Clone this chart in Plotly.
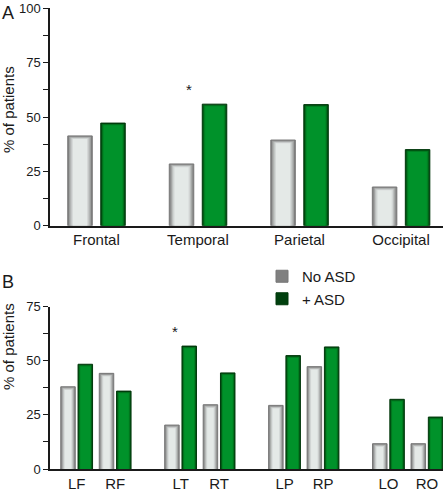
import plotly.graph_objects as go

# ---------------- data ----------------
REGIONS = ["Frontal", "Temporal", "Parietal", "Occipital"]
A_NO_ASD = [41.3, 28.4, 39.4, 17.8]
A_ASD = [47.2, 55.9, 55.7, 35.0]

SUB_LABELS = ["LF", "RF", "LT", "RT", "LP", "RP", "LO", "RO"]
SUB_GROUP = [0, 0, 1, 1, 2, 2, 3, 3]
SUB_SIDE = [0, 1, 0, 1, 0, 1, 0, 1]
B_NO_ASD = [38.0, 44.2, 20.3, 29.7, 29.4, 47.3, 11.7, 11.7]
B_ASD = [48.4, 36.0, 56.8, 44.4, 52.4, 56.4, 32.2, 24.0]

SERIES = ["No ASD", "+ ASD"]
Y_TITLE = "% of patients"
A_YTICKS = [0, 25, 50, 75, 100]
B_YTICKS = [0, 25, 50, 75]
A_SIG = "Temporal"
B_SIG = "LT"

# ---------------- layout geometry (pixels) ----------------
W, H = 443, 490
FONT = "Arial, Liberation Sans, sans-serif"
AX_LEFT = 50
A_Y0, A_YTOP, A_YMAX = 225.7, 8.3, 100
B_Y0, B_YTOP, B_YMAX = 469.0, 306.7, 75

A_PPX, A_C0 = 101.53, 96.4          # px per category, first category centre
B_PPX, B_C0 = 103.93, 76.7          # px per group, first pair centre
PAIR_SEP = 0.3704                   # spacing inside a pair (group units)

A_PPY = (A_Y0 - A_YTOP) / A_YMAX
B_PPY = (B_Y0 - B_YTOP) / B_YMAX

GREY = ["#808080", "#9fa1a0", "#bcbfbe", "#d4d8d7", "#e4e9e7"]
GREEN = ["#00400e", "#006819", "#008524", "#00922a"]

fig = go.Figure()


def layered(x, y, xa, ya, center, width_px, ppx, ppy, colors, step, name, edge):
    for k, c in enumerate(colors):
        w = (width_px - 2 * k * step) / ppx
        yy = [max(v - k * 0.8 / ppy, 0) for v in y]
        fig.add_trace(go.Bar(
            x=x, y=yy, width=w, offset=center - w / 2,
            marker=dict(color=c, line=dict(color=edge, width=1 if k == 0 else 0)),
            xaxis=xa, yaxis=ya, name=name, legendgroup=name,
            showlegend=(k == 0 and xa == "x2"), hoverinfo="skip",
        ))


# Panel A
layered(REGIONS, A_NO_ASD, "x", "y", -16.4 / A_PPX, 24.5, A_PPX, A_PPY,
        GREY, 1.3, SERIES[0], "#777777")
layered(REGIONS, A_ASD, "x", "y", 16.6 / A_PPX, 24.5, A_PPX, A_PPY,
        GREEN, 1.0, SERIES[1], "#00380b")

# Panel B
b_x = [g + (s - 0.5) * PAIR_SEP for g, s in zip(SUB_GROUP, SUB_SIDE)]
b_x0 = (0 - 0.5) * PAIR_SEP
layered(b_x, B_NO_ASD, "x2", "y2", -8.7 / B_PPX, 14.5, B_PPX, B_PPY,
        GREY, 1.0, SERIES[0], "#777777")
layered(b_x, B_ASD, "x2", "y2", 8.6 / B_PPX, 14.5, B_PPX, B_PPY,
        GREEN, 0.8, SERIES[1], "#00380b")

axis_common = dict(showline=True, linecolor="#1a1a1a", linewidth=1.5,
                   showgrid=False, zeroline=False, fixedrange=True,
                   automargin=False)
ytick_common = dict(ticks="outside", ticklen=5, tickwidth=1.2, tickcolor="#1a1a1a",
                    tickfont=dict(family=FONT, size=13, color="#1a1a1a"),
                    minor=dict(dtick=12.5, ticks="outside", ticklen=5,
                               tickwidth=1.2, tickcolor="#1a1a1a"))

xdom = [AX_LEFT / W, 1]
fig.update_layout(
    width=W, height=H, margin=dict(l=0, r=0, t=0, b=0, autoexpand=False),
    paper_bgcolor="white", plot_bgcolor="white",
    barmode="overlay", font=dict(family=FONT, color="#1a1a1a"),
    xaxis=dict(axis_common, domain=xdom, anchor="y", type="category",
               range=[(AX_LEFT - A_C0) / A_PPX, (W - A_C0) / A_PPX],
               ticks="", tickfont=dict(family=FONT, size=15, color="#1a1a1a")),
    yaxis=dict(axis_common, **ytick_common, domain=[1 - A_Y0 / H, 1 - A_YTOP / H],
               anchor="x", range=[0, A_YMAX], tickvals=A_YTICKS),
    xaxis2=dict(axis_common, domain=xdom, anchor="y2",
                range=[b_x0 + (AX_LEFT - B_C0) / B_PPX, b_x0 + (W - B_C0) / B_PPX],
                tickvals=b_x, ticktext=SUB_LABELS, ticks="",
                tickfont=dict(family=FONT, size=15, color="#1a1a1a")),
    yaxis2=dict(axis_common, **ytick_common, domain=[1 - B_Y0 / H, 1 - B_YTOP / H],
                anchor="x2", range=[0, B_YMAX], tickvals=B_YTICKS),
    legend=dict(x=262 / W, y=1 - 260 / H, xanchor="left", yanchor="top",
                font=dict(family=FONT, size=15, color="#1a1a1a"),
                bgcolor="rgba(0,0,0,0)", tracegroupgap=0, itemclick=False),
    annotations=[
        dict(text="A", x=0, y=1 - 1 / H, xref="paper", yref="paper",
             xanchor="left", yanchor="top", showarrow=False,
             font=dict(family=FONT, size=18)),
        dict(text="B", x=0, y=1 - 270 / H, xref="paper", yref="paper",
             xanchor="left", yanchor="top", showarrow=False,
             font=dict(family=FONT, size=18)),
        dict(text=Y_TITLE, x=8 / W, y=1 - 110 / H, xref="paper", yref="paper",
             xanchor="center", yanchor="middle", textangle=-90, showarrow=False,
             font=dict(family=FONT, size=15)),
        dict(text=Y_TITLE, x=8 / W, y=1 - 347 / H, xref="paper", yref="paper",
             xanchor="center", yanchor="middle", textangle=-90, showarrow=False,
             font=dict(family=FONT, size=15)),
        dict(text="*", x=A_SIG, y=62.5, xref="x", yref="y", xshift=-9.3,
             showarrow=False, font=dict(family=FONT, size=15)),
        dict(text="*", x=b_x[SUB_LABELS.index(B_SIG)], y=63.5,
             xref="x2", yref="y2", xshift=-5.8,
             showarrow=False, font=dict(family=FONT, size=15)),
    ],
)

fig.write_html("out.html", config={"displayModeBar": False},
               post_script="document.body.style.margin='0';"
                           "document.body.style.overflow='hidden';")
